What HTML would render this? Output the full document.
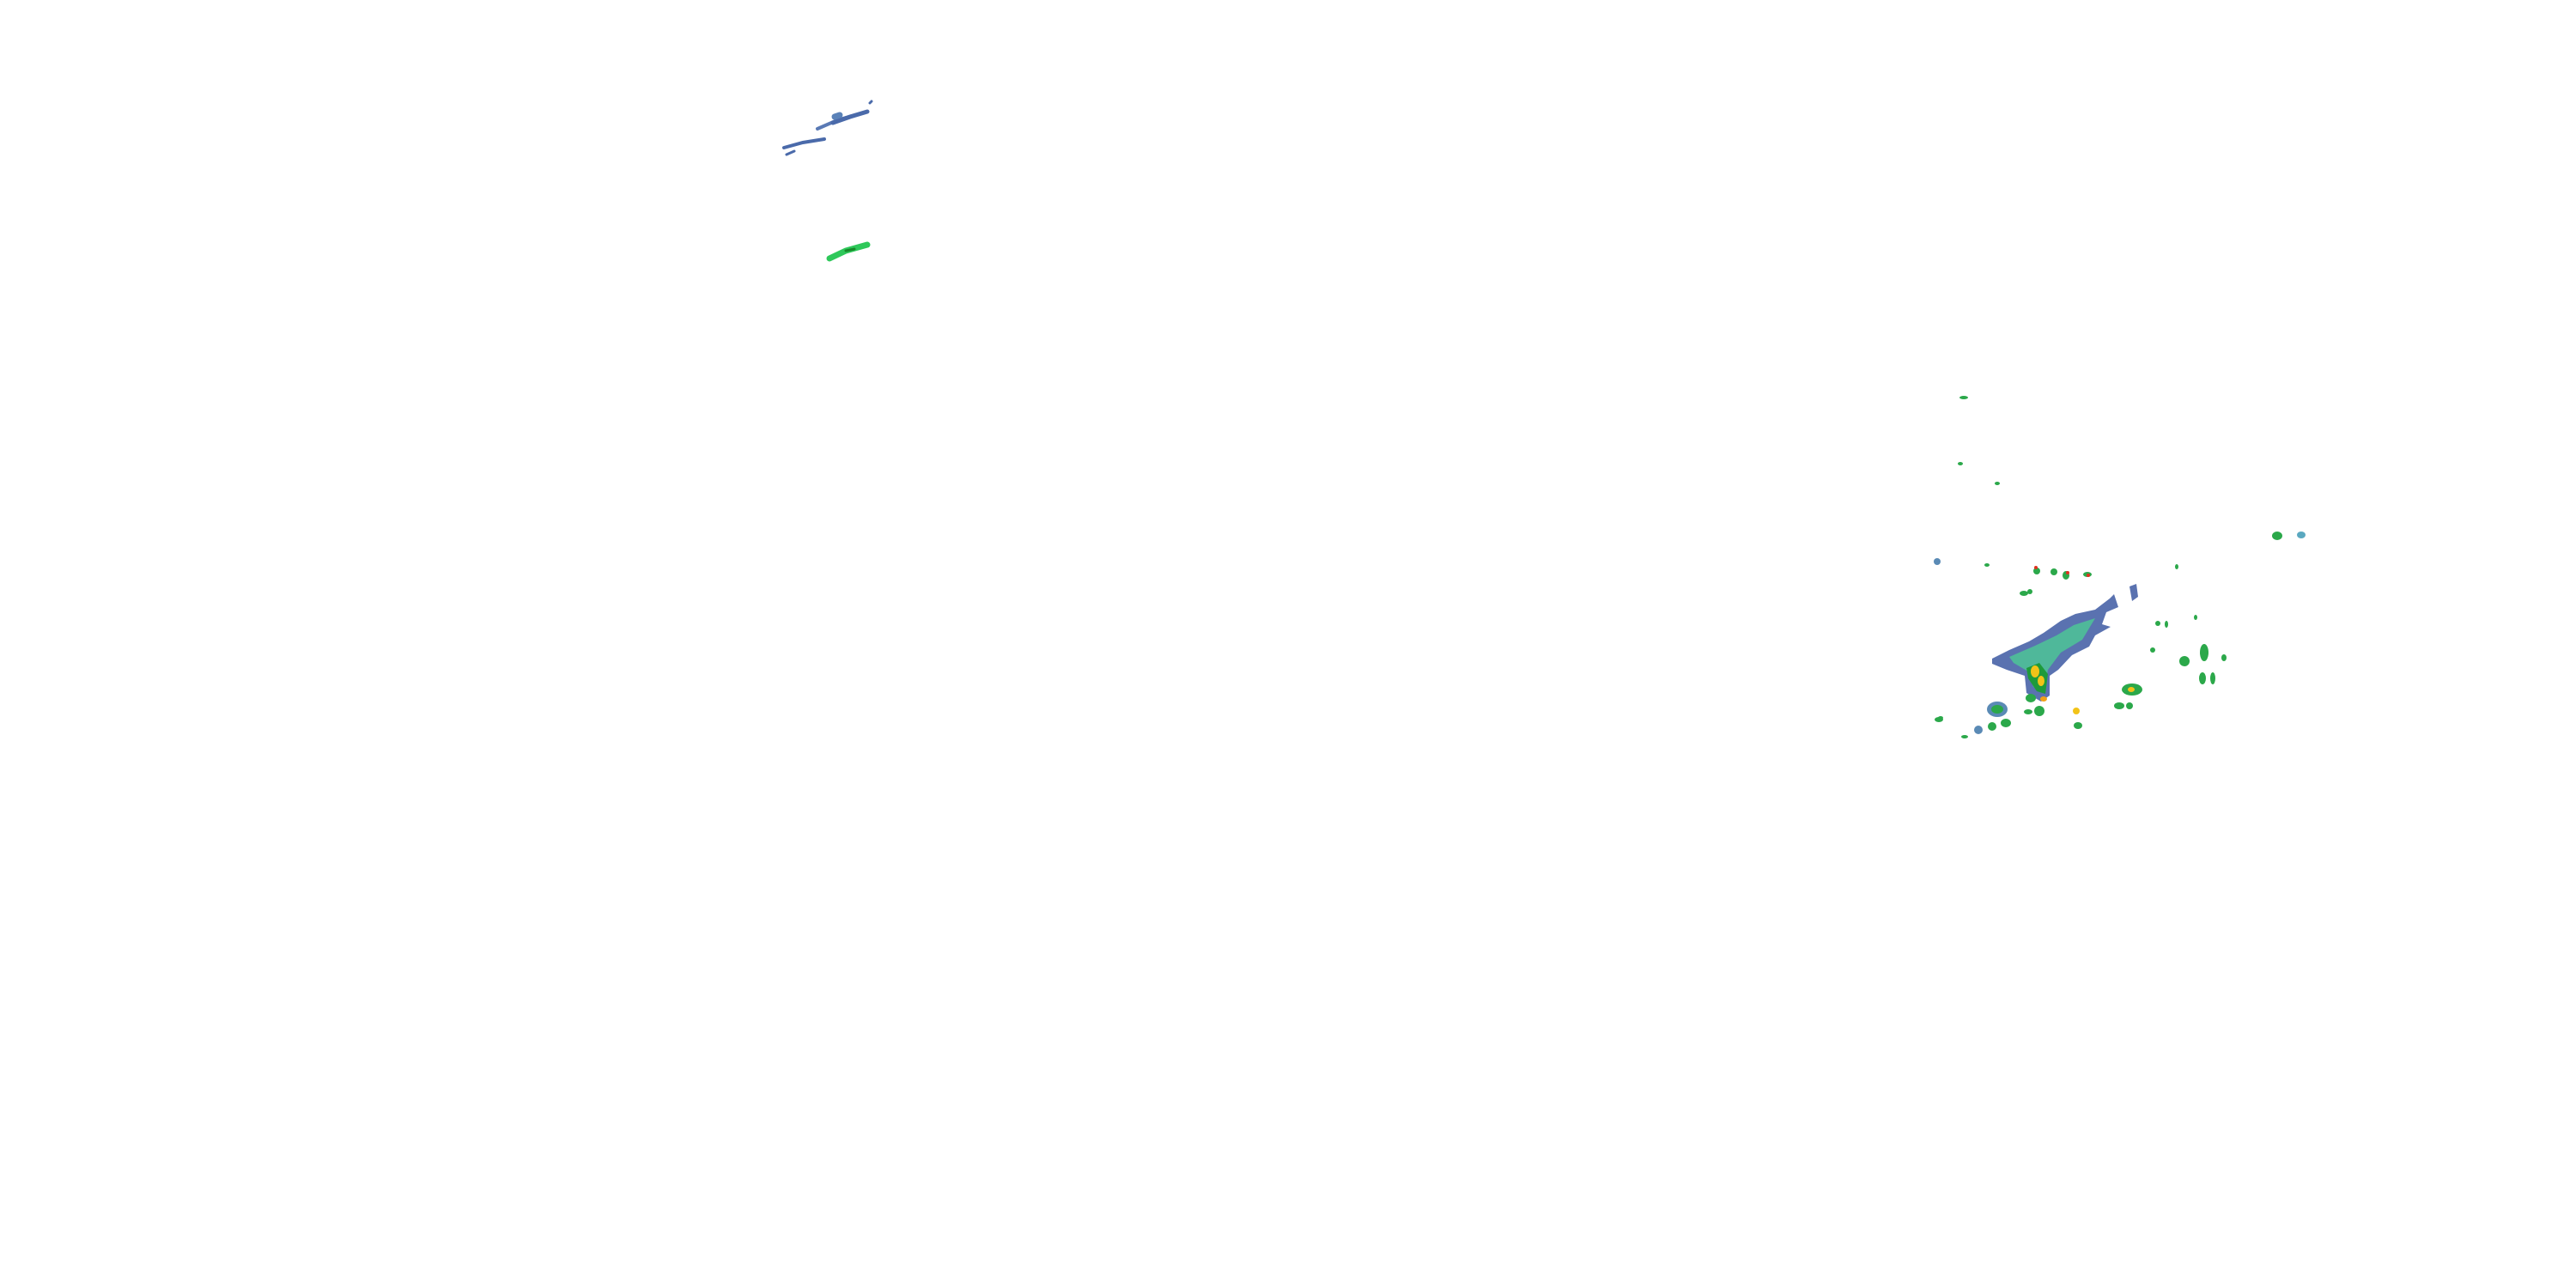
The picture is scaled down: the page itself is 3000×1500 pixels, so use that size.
<!DOCTYPE html>
<html><head><meta charset="utf-8"><style>html,body{margin:0;padding:0;background:#fff;width:3000px;height:1500px;overflow:hidden}</style></head>
<body>
<svg width="3000" height="1500" viewBox="0 0 3000 1500" xmlns="http://www.w3.org/2000/svg">
<g stroke-linecap="round" fill="none">
<path d="M913 172 L935 166 L960 162" stroke="#4a6aaa" stroke-width="4"/>
<path d="M916 180 L925 176" stroke="#4a6aaa" stroke-width="3"/>
<path d="M952 150 L975 140 L992 135" stroke="#5a7ab5" stroke-width="4"/>
<path d="M970 143 L990 136 L1010 130" stroke="#4a6aaa" stroke-width="5"/>
<path d="M972 136 L978 134" stroke="#5a82b8" stroke-width="7"/>
<path d="M1013 120 L1015 118" stroke="#4a6aaa" stroke-width="3"/>
<path d="M966 301 L985 292 L1010 285" stroke="#2ec85a" stroke-width="7"/>
<path d="M985 292 L995 290" stroke="#178a2a" stroke-width="3"/>
</g>
<!-- main cluster -->
<polygon points="2320,767 2340,757 2363,747 2380,737 2400,723 2417,715 2440,710 2457,697 2462,692 2467,707 2453,713 2448,727 2458,730 2440,740 2433,753 2413,763 2397,780 2387,787 2387,810 2377,817 2360,807 2358,787 2337,780 2320,773" fill="#5a72b0"/>
<polygon points="2340,765 2370,752 2395,740 2415,728 2440,720 2425,745 2400,760 2385,780 2380,805 2368,800 2362,782 2345,772" fill="#4fb89a"/>
<polygon points="2360,778 2375,772 2385,785 2382,808 2372,805 2362,790" fill="#1e9a3a"/>
<ellipse cx="2370" cy="782" rx="5" ry="7" fill="#f2c318"/>
<ellipse cx="2377" cy="793" rx="4" ry="6" fill="#f2c318"/>
<ellipse cx="2380" cy="814" rx="4" ry="3" fill="#f2a018"/>
<polygon points="2480,683 2488,680 2490,695 2483,700" fill="#5a72b0"/>
<g fill="#2ba84a">
<ellipse cx="2326" cy="826" rx="12" ry="9" fill="#5a8ab5"/>
<ellipse cx="2326" cy="826" rx="7" ry="5"/>
<ellipse cx="2336" cy="842" rx="6" ry="5"/>
<ellipse cx="2320" cy="846" rx="5" ry="5"/>
<ellipse cx="2304" cy="850" rx="5" ry="5" fill="#5a8ab5"/>
<ellipse cx="2365" cy="813" rx="6" ry="5"/>
<ellipse cx="2375" cy="828" rx="6" ry="6"/>
<ellipse cx="2362" cy="829" rx="5" ry="3"/>
<ellipse cx="2483" cy="803" rx="12" ry="7"/>
<ellipse cx="2482" cy="803" rx="4" ry="3" fill="#f2c318"/>
<ellipse cx="2468" cy="822" rx="6" ry="4"/>
<ellipse cx="2480" cy="822" rx="4" ry="4"/>
<ellipse cx="2420" cy="845" rx="5" ry="4"/>
<ellipse cx="2544" cy="770" rx="6" ry="6"/>
<ellipse cx="2567" cy="760" rx="5" ry="10"/>
<ellipse cx="2565" cy="790" rx="4" ry="7"/>
<ellipse cx="2577" cy="790" rx="3" ry="7"/>
<ellipse cx="2590" cy="766" rx="3" ry="4"/>
<ellipse cx="2652" cy="624" rx="6" ry="5"/>
<ellipse cx="2680" cy="623" rx="5" ry="4" fill="#5aa8c0"/>
<ellipse cx="2372" cy="665" rx="4" ry="4"/>
<ellipse cx="2392" cy="666" rx="4" ry="4"/>
<ellipse cx="2406" cy="670" rx="4" ry="5"/>
<ellipse cx="2431" cy="669" rx="5" ry="3"/>
<ellipse cx="2357" cy="691" rx="5" ry="3"/>
<ellipse cx="2364" cy="689" rx="3" ry="3"/>
<ellipse cx="2256" cy="654" rx="4" ry="4" fill="#5a8ab5"/>
<ellipse cx="2314" cy="658" rx="3" ry="2"/>
<ellipse cx="2535" cy="660" rx="2" ry="3"/>
<ellipse cx="2513" cy="726" rx="3" ry="3"/>
<ellipse cx="2523" cy="727" rx="2" ry="4"/>
<ellipse cx="2507" cy="757" rx="3" ry="3"/>
<ellipse cx="2557" cy="719" rx="2" ry="3"/>
<ellipse cx="2258" cy="838" rx="5" ry="3"/>
<ellipse cx="2288" cy="858" rx="4" ry="2"/>
<ellipse cx="2260" cy="836" rx="3" ry="2"/>
<ellipse cx="2283" cy="540" rx="3" ry="2"/>
<ellipse cx="2326" cy="563" rx="3" ry="2"/>
<ellipse cx="2418" cy="828" rx="4" ry="4" fill="#f2c318"/>
</g>
<g fill="#e03020">
<circle cx="2371" cy="661" r="2"/><circle cx="2408" cy="667" r="2"/><circle cx="2432" cy="670" r="2"/>
</g>
<ellipse cx="2287" cy="463" rx="5" ry="2" fill="#2ba84a"/>
</svg>
</body></html>
